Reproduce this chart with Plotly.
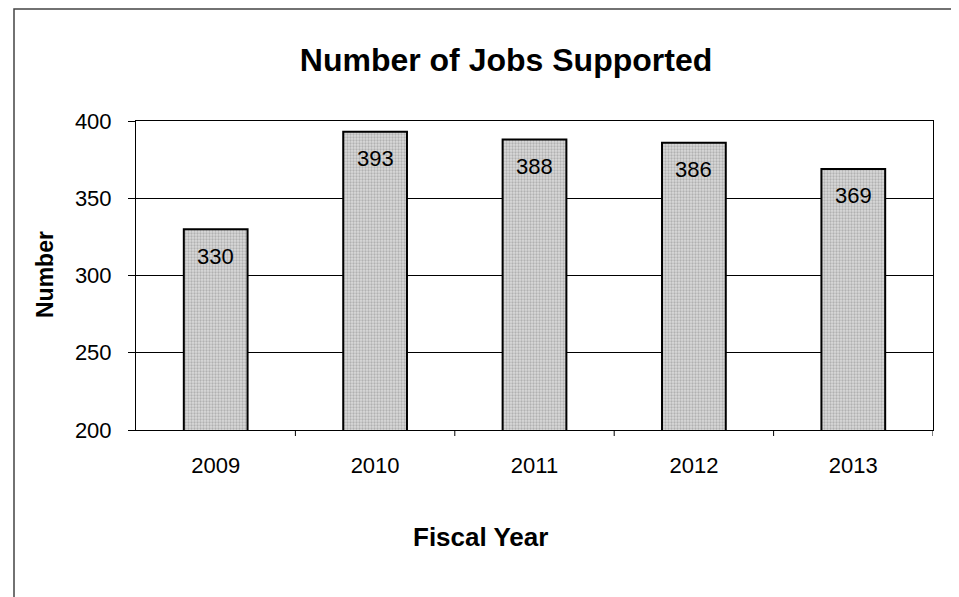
import plotly.graph_objects as go

years = ["2009", "2010", "2011", "2012", "2013"]
jobs = [330, 393, 388, 386, 369]
y_ticks = [200, 250, 300, 350, 400]

FONT = "Liberation Sans, Arial, sans-serif"

# the page body has an 8px margin, so shift everything up/left by that
OFF = 8
W, H = 959 - 2 * OFF + 4, 597 - OFF
# plot area in page pixels (from the reference)
L, R, T, B = 136, 933, 121, 430
pw, ph = R - L, B - T

fig = go.Figure()
fig.add_trace(go.Bar(
    x=years,
    y=jobs,
    width=0.4,
    marker=dict(
        color="#cfcfcf",
        line=dict(color="black", width=2),
        pattern=dict(shape=".", size=3, solidity=0.45, fgcolor="#888888", bgcolor="#dadada"),
    ),
    hoverinfo="x+y",
))

# value labels just inside the top of each bar (category index positions)
for i, v in enumerate(jobs):
    fig.add_annotation(x=i, y=v, yshift=-27, text=str(v), showarrow=False,
                       font=dict(family=FONT, size=22, color="black"),
                       xanchor="center", yanchor="middle")

fig.update_layout(
    width=W, height=H,
    margin=dict(l=L - OFF, r=W - (R - OFF), t=T - OFF, b=H - (B - OFF)),
    paper_bgcolor="white",
    plot_bgcolor="white",
    showlegend=False,
    title=dict(text="<b>Number of Jobs Supported</b>", x=(506 - OFF) / W, xanchor="center",
               y=1 - (60 - OFF) / H, yanchor="middle",
               font=dict(family=FONT, size=32, color="black")),
    font=dict(family=FONT, color="black"),
    bargap=0.6,
)

fig.update_xaxes(
    type="category", range=[-0.5, len(years) - 0.5],
    showline=True, linecolor="black", linewidth=1, mirror=True,
    ticks="", ticklabelstandoff=16,
    tickfont=dict(family=FONT, size=22, color="black"),
)
fig.update_yaxes(
    range=[200, 400], tickvals=y_ticks,
    showline=True, linecolor="black", linewidth=1, mirror=True,
    showgrid=True, gridcolor="black", gridwidth=1,
    ticks="outside", ticklen=7, tickcolor="black", ticklabelstandoff=12,
    tickfont=dict(family=FONT, size=22, color="black"),
)

# axis titles
fig.add_annotation(text="<b>Fiscal Year</b>", xref="paper", yref="paper",
                   x=(480 - L) / pw, y=(B - 537) / ph, showarrow=False,
                   xanchor="center", yanchor="middle",
                   font=dict(family=FONT, size=26, color="black"))
fig.add_annotation(text="<b>Number</b>", xref="paper", yref="paper",
                   x=(45 - L) / pw, y=(B - 275) / ph, showarrow=False, textangle=-90,
                   xanchor="center", yanchor="middle",
                   font=dict(family=FONT, size=23, color="black"))

# small tick marks between categories on the x axis
for i in range(1, len(years) + 1):
    fig.add_shape(type="line", xref="x", yref="paper",
                  x0=i - 0.5, x1=i - 0.5, y0=0, y1=-6 / ph,
                  line=dict(color="black", width=1))

# outer chart border (top edge sits at the top of the figure)
fig.add_shape(type="rect", xref="paper", yref="paper",
              x0=(14 - L) / pw, x1=(953 - L) / pw,
              y0=(B - 610) / ph, y1=(B - OFF - 1) / ph,
              line=dict(color="#444444", width=1.5), layer="below")

fig.write_html("out.html")
